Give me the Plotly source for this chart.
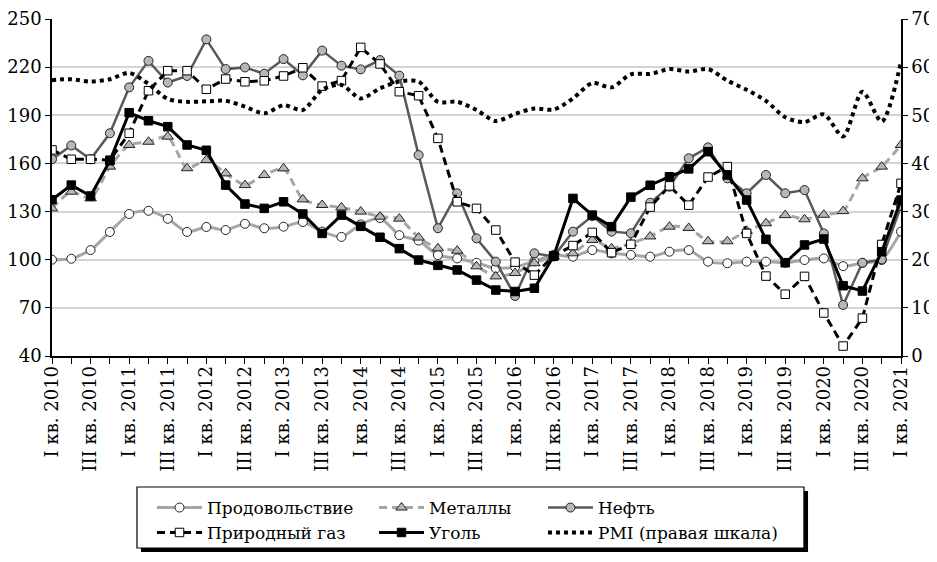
import plotly.graph_objects as go

# квартальные данные, I кв. 2010 - I кв. 2021
quarters = list(range(45))
tick_text = []
for i in quarters:
    if i % 2 == 0:
        k = i // 2
        tick_text.append(("I" if k % 2 == 0 else "III") + " кв. " + str(2010 + k // 2))
    else:
        tick_text.append("")

food = [100.0, 100.6, 106.0, 117.3, 128.5, 130.5, 125.5, 117.3, 120.4, 118.5,
        122.4, 119.6, 120.6, 123.5, 117.5, 114.2, 122.0, 126.0, 115.3, 111.9,
        102.9, 100.8, 98.1, 94.6, 95.5, 99.0, 103.0, 101.9, 106.0, 104.0,
        103.0, 101.9, 105.0, 106.0, 98.8, 97.8, 98.8, 98.8, 98.1, 99.8,
        100.8, 96.0, 98.0, 99.8, 117.5]
metals = [132.0, 142.4, 138.2, 158.0, 171.5, 173.5, 176.7, 157.0, 162.1, 153.8,
          146.5, 152.8, 156.9, 137.6, 134.1, 132.6, 130.0, 126.8, 125.6, 113.8,
          107.1, 105.6, 95.9, 89.6, 91.7, 97.8, 102.0, 104.0, 112.3, 107.1,
          110.2, 114.5, 120.6, 119.8, 111.5, 111.5, 118.0, 122.7, 127.8, 125.2,
          128.0, 130.3, 150.7, 158.0, 171.5]
oil = [162.6, 171.2, 162.6, 178.8, 207.4, 223.9, 210.4, 214.5, 237.3, 218.8,
       219.8, 215.9, 225.0, 214.9, 230.3, 220.9, 218.6, 224.4, 214.7, 165.2,
       119.6, 141.4, 113.3, 98.8, 77.4, 104.0, 102.0, 117.5, 127.2, 117.5,
       116.5, 135.5, 145.5, 163.2, 170.0, 150.7, 141.4, 152.8, 141.4, 143.4,
       116.4, 71.8, 98.1, 100.2, 133.5]
gas = [168.4, 162.6, 162.6, 162.0, 178.8, 205.3, 217.8, 217.8, 206.2, 212.6,
       210.9, 211.5, 214.5, 219.6, 208.2, 211.6, 232.3, 222.0, 204.7, 202.2,
       175.6, 136.1, 132.0, 118.5, 98.5, 90.4, 102.5, 108.8, 117.0, 104.4,
       109.6, 132.8, 146.0, 134.0, 151.5, 158.0, 116.4, 89.8, 78.5, 89.6,
       66.8, 46.2, 63.6, 109.5, 147.6]
coal = [137.4, 146.5, 139.7, 161.7, 191.6, 186.6, 182.9, 171.5, 168.2, 146.5,
        134.7, 132.0, 136.1, 128.5, 116.4, 127.8, 120.8, 114.0, 106.9, 99.8,
        96.5, 93.6, 87.3, 81.1, 80.2, 82.2, 102.2, 138.2, 127.8, 120.6,
        139.0, 146.4, 151.7, 156.6, 167.3, 152.8, 137.2, 112.7, 98.1, 109.2,
        112.9, 83.8, 80.5, 105.0, 137.2]
pmi = [57.3, 57.5, 57.0, 57.5, 58.8, 56.5, 53.4, 52.8, 52.9, 53.0,
       51.8, 50.4, 52.1, 51.1, 55.3, 56.3, 53.5, 55.6, 57.0, 57.0,
       52.8, 52.8, 51.1, 48.8, 50.3, 51.4, 51.2, 53.5, 56.7, 55.8,
       58.5, 58.6, 59.6, 59.1, 59.6, 57.2, 55.3, 53.0, 49.6, 48.6,
       50.2, 45.6, 54.9, 48.7, 61.1]

FONT = "DejaVu Serif"
LIGHT = "#a6a6a6"
DARK = "#595959"
FILL = "#b7b7b7"

fig = go.Figure()

fig.add_trace(go.Scatter(
    x=quarters, y=food, name="Продовольствие", mode="lines+markers",
    line=dict(color=LIGHT, width=3, shape="spline", smoothing=0.6),
    marker=dict(symbol="circle", size=9, color="white", line=dict(color="#222", width=1)),
    legend="legend"))
fig.add_trace(go.Scatter(
    x=quarters, y=metals, name="Металлы", mode="lines+markers",
    line=dict(color=LIGHT, width=3, dash="8px,5px", shape="spline", smoothing=0.6),
    marker=dict(symbol="triangle-up", size=10, color=FILL, line=dict(color="#222", width=1)),
    legend="legend2"))
fig.add_trace(go.Scatter(
    x=quarters, y=oil, name="Нефть", mode="lines+markers",
    line=dict(color=DARK, width=2.5),
    marker=dict(symbol="circle", size=9, color=FILL, line=dict(color="#222", width=1)),
    legend="legend3"))
fig.add_trace(go.Scatter(
    x=quarters, y=gas, name="Природный газ", mode="lines+markers",
    line=dict(color="black", width=3, dash="8px,5px"),
    marker=dict(symbol="square", size=8.5, color="white", line=dict(color="black", width=1)),
    legend="legend4"))
fig.add_trace(go.Scatter(
    x=quarters, y=coal, name="Уголь", mode="lines+markers",
    line=dict(color="black", width=3),
    marker=dict(symbol="square", size=8.5, color="black", line=dict(color="black", width=1)),
    legend="legend5"))
fig.add_trace(go.Scatter(
    x=quarters, y=pmi, name="PMI (правая шкала)", mode="lines", yaxis="y2",
    line=dict(color="black", width=4, dash="dot", shape="spline", smoothing=0.8),
    legend="legend6"))

# легенда: 3 колонки x 2 строки, каждая ячейка - отдельная легенда
col_x = [0.1178, 0.3793, 0.5783]
row_y = [-0.451, -0.525]


def legend_cell(col, row):
    return dict(x=col_x[col], y=row_y[row], orientation="h", xanchor="left",
                yanchor="middle", bgcolor="rgba(0,0,0,0)", borderwidth=0,
                itemwidth=45, font=dict(family=FONT, size=17, color="black"),
                itemclick=False, itemdoubleclick=False)


fig.update_layout(
    # страница рисуется со сдвигом 8px (отступ body)
    width=929, height=554,
    margin=dict(l=44, r=36, t=11, b=206, autoexpand=False),
    paper_bgcolor="white", plot_bgcolor="white",
    font=dict(family=FONT, size=18, color="black"),
    showlegend=True,
    legend=legend_cell(0, 0),
    legend2=legend_cell(1, 0),
    legend3=legend_cell(2, 0),
    legend4=legend_cell(0, 1),
    legend5=legend_cell(1, 1),
    legend6=legend_cell(2, 1),
    xaxis=dict(range=[0, 44], tickmode="array", tickvals=quarters, ticktext=tick_text,
               tickangle=-90, ticks="outside", ticklen=6, tickcolor="black",
               showline=True, linecolor="black", linewidth=1.5, showgrid=False,
               zeroline=False, automargin=False, ticklabelstandoff=-5,
               tickfont=dict(family=FONT, size=18)),
    yaxis=dict(range=[40, 250], dtick=30, tick0=40, ticks="outside", ticklen=5,
               tickcolor="black", showline=True, linecolor="black", linewidth=1.5,
               gridcolor="#d4d4d4", gridwidth=1.5, zeroline=False, automargin=False,
               tickfont=dict(family=FONT, size=18)),
    yaxis2=dict(range=[0, 70], dtick=10, overlaying="y", side="right",
                ticks="outside", ticklen=5, tickcolor="black", showline=True,
                linecolor="black", linewidth=1.5, showgrid=False, zeroline=False,
                automargin=False, tickfont=dict(family=FONT, size=18)),
    shapes=[
        # тень рамки легенды
        dict(type="rect", xref="paper", yref="paper", x0=0.1048, x1=0.8905,
             y0=-0.5816, y1=-0.4006, fillcolor="black", line=dict(width=0)),
        dict(type="rect", xref="paper", yref="paper", x0=0.1001, x1=0.8857,
             y0=-0.5697, y1=-0.3887, fillcolor="white", line=dict(color="black", width=1.2)),
    ],
)

fig.write_html("out.html")
